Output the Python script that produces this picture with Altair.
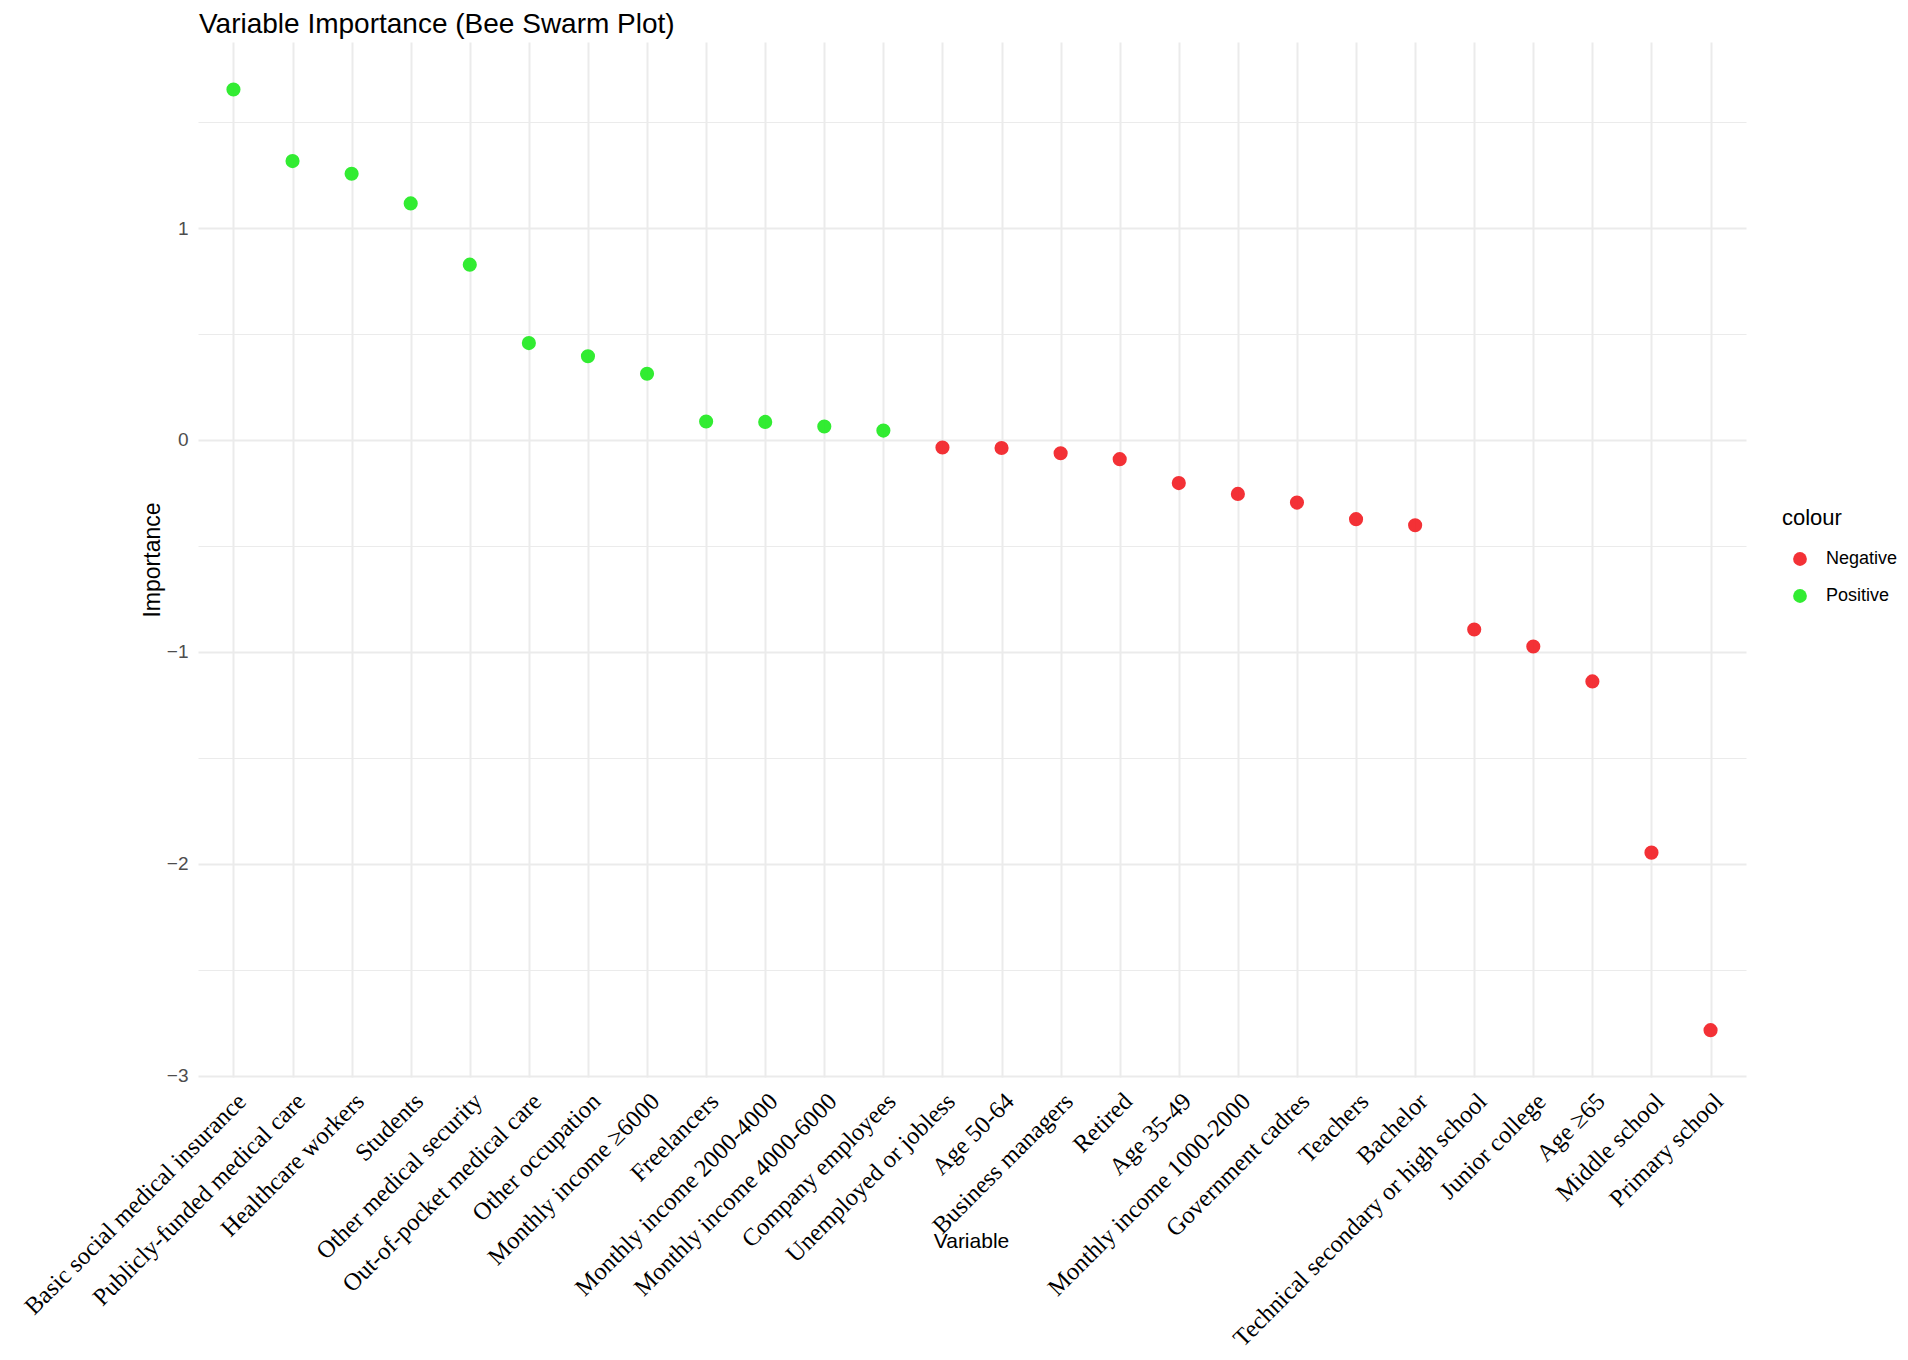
import altair as alt
import pandas as pd

variables = [
    "Basic social medical insurance", "Publicly-funded medical care", "Healthcare workers",
    "Students", "Other medical security", "Out-of-pocket medical care", "Other occupation",
    "Monthly income \u22656000", "Freelancers", "Monthly income 2000-4000",
    "Monthly income 4000-6000", "Company employees", "Unemployed or jobless", "Age 50-64",
    "Business managers", "Retired", "Age 35-49", "Monthly income 1000-2000",
    "Government cadres", "Teachers", "Bachelor", "Technical secondary or high school",
    "Junior college", "Age \u226565", "Middle school", "Primary school",
]
importance = [
    1.654, 1.316, 1.256, 1.116, 0.827, 0.457, 0.395, 0.312, 0.087, 0.085, 0.063, 0.044,
    -0.036, -0.038, -0.063, -0.091, -0.204, -0.255, -0.296, -0.374, -0.403, -0.895,
    -0.975, -1.140, -1.948, -2.786,
]
colour = ["Positive" if v > 0 else "Negative" for v in importance]
title_text = "Variable Importance (Bee Swarm Plot)"

df = pd.DataFrame({"Variable": variables, "Importance": importance, "colour": colour})

y_values = [-3, -2.5, -2, -1.5, -1, -0.5, 0, 0.5, 1, 1.5]

points = alt.Chart(df).mark_point(filled=True, opacity=0.95, size=200).encode(
    x=alt.X(
        "Variable:N",
        sort=variables,
        scale=alt.Scale(type="point", padding=0.6),
        axis=alt.Axis(
            title="Variable",
            titleX=773,
            titleY=153,
            titleFont="Liberation Sans",
            titleFontSize=21,
            titleFontWeight="normal",
            titleColor="black",
            labelAngle=-45,
            labelAlign="right",
            labelBaseline="top",
            labelFont="Liberation Serif",
            labelFontSize=24.5,
            labelColor="black",
            labelPadding=12,
            labelLimit=1000,
            labelOverlap=False,
            ticks=False,
            tickSize=0,
            domain=False,
            grid=True,
            gridColor="#EBEBEB",
            gridWidth=2,
        ),
    ),
    y=alt.Y(
        "Importance:Q",
        scale=alt.Scale(domain=[-3.007, 1.878], nice=False, zero=False),
        axis=alt.Axis(
            title="Importance",
            titleFont="Liberation Sans",
            titleFontSize=23,
            titleFontWeight="normal",
            titleColor="black",
            titlePadding=2,
            values=y_values,
            labelExpr="datum.value % 1 == 0 ? (datum.value < 0 ? '\u2212' + abs(datum.value) : '' + datum.value) : ''",
            labelFont="Liberation Sans",
            labelFontSize=19,
            labelColor="#4D4D4D",
            labelPadding=10,
            ticks=False,
            tickSize=0,
            domain=False,
            grid=True,
            gridColor="#EBEBEB",
            gridWidth={"condition": {"test": "datum.value % 1 == 0", "value": 2}, "value": 1.2},
        ),
    ),
    color=alt.Color(
        "colour:N",
        scale=alt.Scale(domain=["Negative", "Positive"], range=["#F2262B", "#27EB27"]),
        legend=alt.Legend(
            title="colour",
            orient="none",
            legendX=1584,
            legendY=466,
            titleFont="Liberation Sans",
            titleFontSize=22,
            titleFontWeight="normal",
            titleColor="black",
            titlePadding=20,
            labelFont="Liberation Sans",
            labelFontSize=18,
            labelColor="black",
            labelOffset=17,
            symbolType="circle",
            symbolSize=190,
            symbolOffset=9,
            symbolStrokeWidth=0,
            rowPadding=19,
        ),
    ),
)

title = alt.Chart(pd.DataFrame({"t": [title_text]})).mark_text(
    align="left",
    baseline="alphabetic",
    font="Liberation Sans",
    fontSize=28,
    color="black",
).encode(
    x=alt.value(1),
    y=alt.value(-9),
    text="t:N",
)

chart = alt.layer(points, title).properties(
    width=1548,
    height=1035,
    autosize=alt.AutoSizeParams(type="none"),
    padding={"left": 190, "top": 34, "right": 152, "bottom": 274},
).configure(background="white").configure_view(stroke=None)

chart.save("out.html", embed_options={"renderer": "svg", "actions": False})
